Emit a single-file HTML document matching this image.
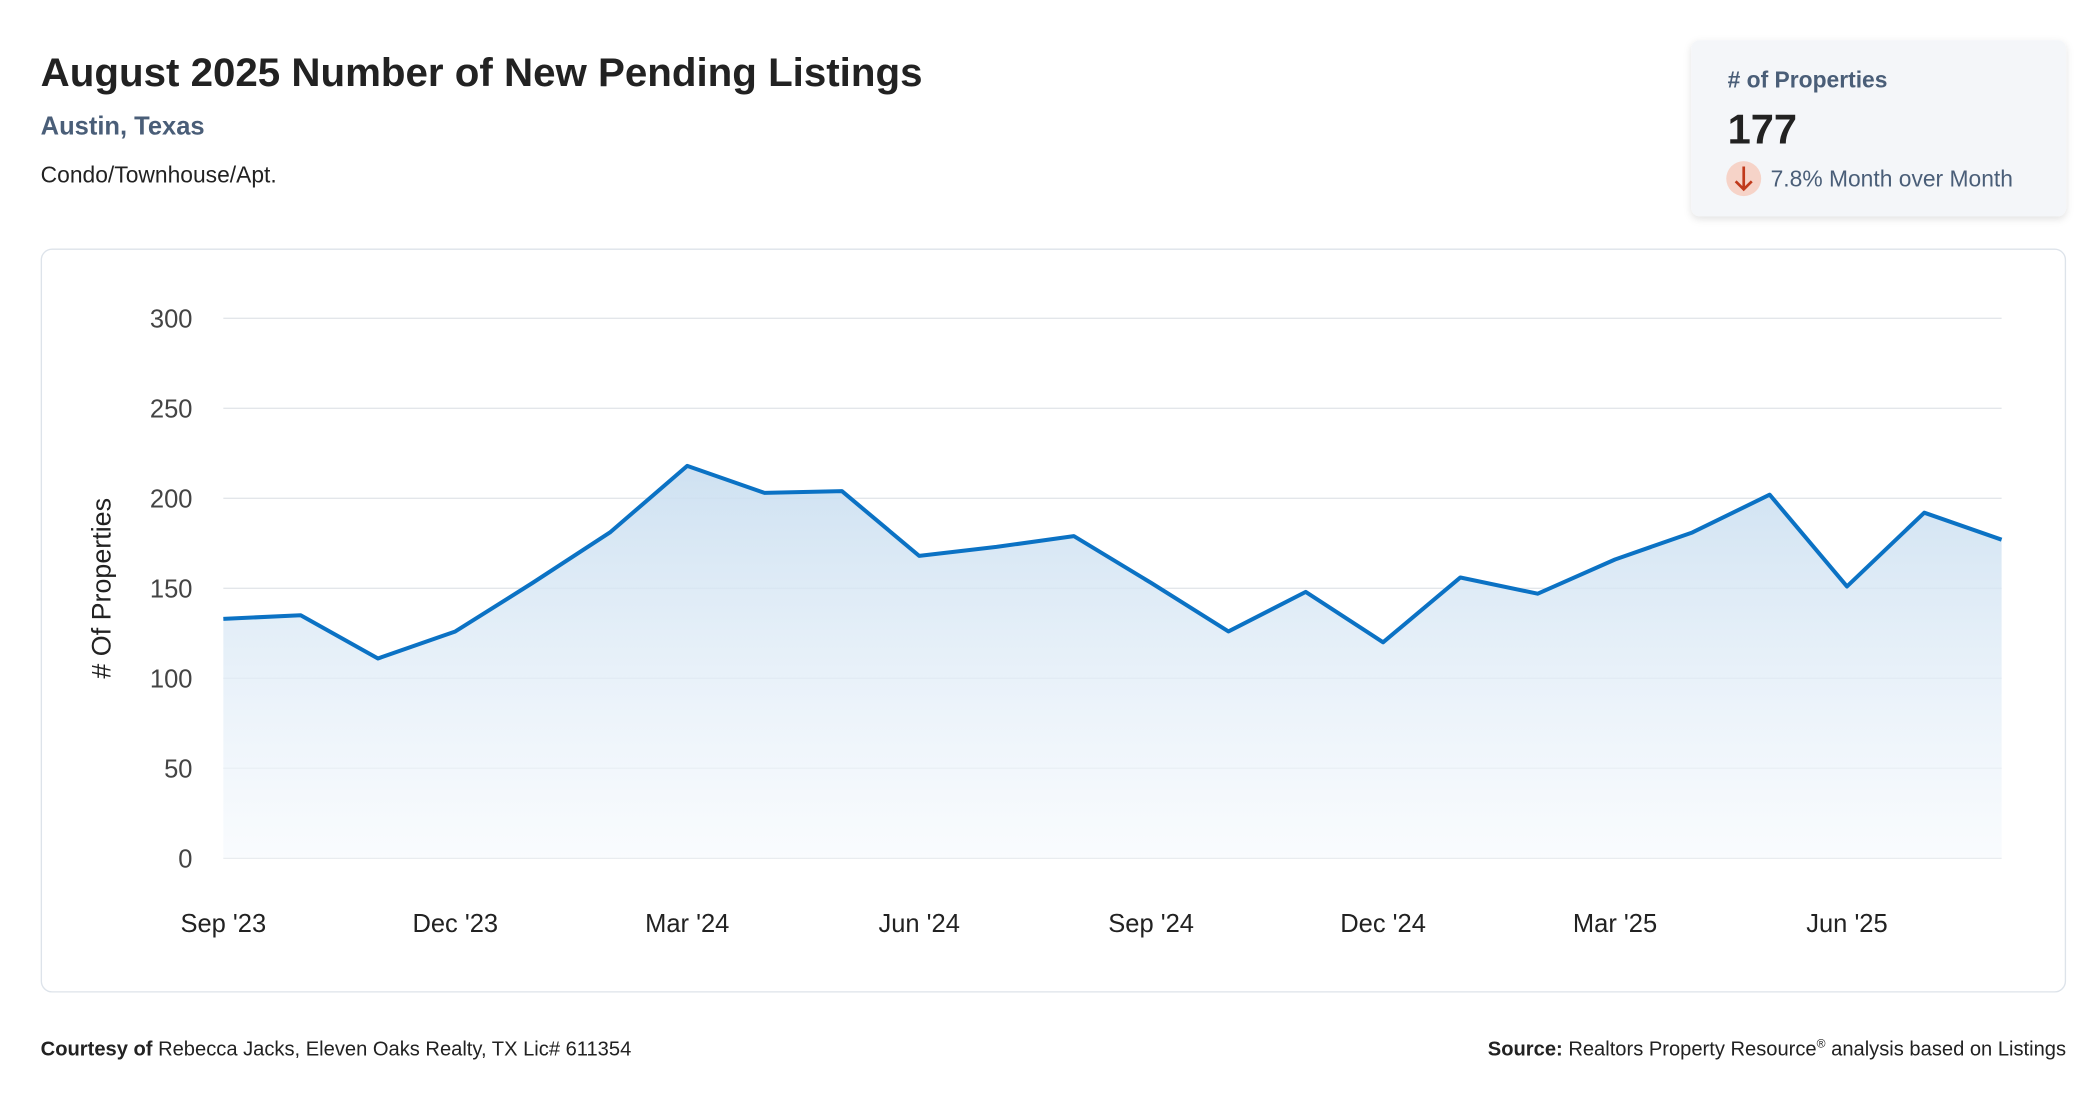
<!DOCTYPE html>
<html><head><meta charset="utf-8"><style>
html,body{margin:0;padding:0;background:#fff;width:2096px;height:1100px;overflow:hidden}
svg{display:block;font-family:"Liberation Sans",sans-serif}
</style></head><body>
<svg id="chart" width="2096" height="1100" viewBox="0 0 1560 819" xmlns="http://www.w3.org/2000/svg">
<defs>
<linearGradient id="fillG" x1="0" y1="0" x2="0" y2="1">
<stop offset="0" stop-color="#c9def0" stop-opacity="0.9"/>
<stop offset="1" stop-color="#f5f9fd" stop-opacity="0.6"/>
</linearGradient>
<filter id="sh" x="-10%" y="-10%" width="120%" height="130%"><feDropShadow dx="0" dy="2" stdDeviation="3" flood-color="#000" flood-opacity="0.12"/></filter>
</defs>
<text x="30" y="64" font-size="30" font-weight="bold" fill="#222">August 2025 Number of New Pending Listings</text>
<text x="30" y="100" font-size="19" font-weight="bold" fill="#4a5e78">Austin, Texas</text>
<text x="30" y="136" font-size="17" fill="#222">Condo/Townhouse/Apt.</text>

<g>
<rect x="1259" y="30" width="279" height="131" rx="6" fill="#f4f6f9" filter="url(#sh)"/>
<text x="1286" y="65" font-size="17" font-weight="bold" fill="#4a5e78"># of Properties</text>
<text x="1286" y="107" font-size="31" font-weight="bold" fill="#222">177</text>
<circle cx="1298" cy="133" r="13" fill="#f6d3c8"/>
<path d="M1298 124 V141 M1292 135 L1298 141 L1304 135" stroke="#c0391b" stroke-width="2" fill="none"/>
<text x="1318" y="139" font-size="17" fill="#4a5e78">7.8% Month over Month</text>
</g>

<rect x="30.5" y="185.5" width="1507" height="553" rx="8" fill="#fff" stroke="#dde3ea"/>
<g id="grid"></g>
<g id="plot"></g>
<g id="xlabels"></g>
<text transform="translate(82,438) rotate(-90)" text-anchor="middle" font-size="20" fill="#222"># Of Properties</text>

<text x="30" y="786" font-size="15" fill="#222"><tspan font-weight="bold">Courtesy of</tspan> Rebecca Jacks, Eleven Oaks Realty, TX Lic# 611354</text>
<text x="1538" y="786" font-size="15" fill="#222" text-anchor="end"><tspan font-weight="bold">Source:</tspan> Realtors Property Resource<tspan font-size="9" dy="-6">®</tspan><tspan dy="6"> analysis based on Listings</tspan></text>
</svg>
<script>
const months = ["Sep '23","Oct '23","Nov '23","Dec '23","Jan '24","Feb '24","Mar '24","Apr '24","May '24","Jun '24","Jul '24","Aug '24","Sep '24","Oct '24","Nov '24","Dec '24","Jan '25","Feb '25","Mar '25","Apr '25","May '25","Jun '25","Jul '25","Aug '25"];
const values = [133,135,111,126,153,181,218,203,204,168,173,179,153,126,148,120,156,147,166,181,202,151,192,177];
const yTicks = [0,50,100,150,200,250,300];
const xTickLabels = ["Sep '23","Dec '23","Mar '24","Jun '24","Sep '24","Dec '24","Mar '25","Jun '25"];

const NS="http://www.w3.org/2000/svg";
const X0=166,X1=1490,Y0=639,Y1=237,YMAX=300;
function xs(i){return X0+(X1-X0)*i/(months.length-1);}
function ys(v){return Y0-(Y0-Y1)*v/YMAX;}
function mk(tag,attrs,parent){const e=document.createElementNS(NS,tag);for(const k in attrs)e.setAttribute(k,attrs[k]);parent.appendChild(e);return e;}

const grid=document.getElementById('grid');
yTicks.forEach(t=>{
  const l=mk('line',{x1:X0,x2:X1,y1:ys(t),y2:ys(t),stroke:'#e3e6ea','stroke-width':1},grid);
  
  
  const tx=mk('text',{x:143,y:ys(t)+7,'text-anchor':'end','font-size':19,fill:'#444'},grid);
  tx.textContent=t;
  
  
});
const plot=document.getElementById('plot');
let pts=values.map((v,i)=>xs(i).toFixed(2)+','+ys(v).toFixed(2));
const area=mk('path',{d:'M'+xs(0)+','+Y0+' L'+pts.join(' L')+' L'+xs(values.length-1)+','+Y0+' Z',fill:'url(#fillG)'},plot);


const line=mk('polyline',{points:pts.join(' '),fill:'none',stroke:'#0b72c4','stroke-width':3,'stroke-linejoin':'round'},plot);


const xl=document.getElementById('xlabels');
xTickLabels.forEach(lab=>{
  const i=months.indexOf(lab);
  const t=mk('text',{x:xs(i),y:694,'text-anchor':'middle','font-size':19,fill:'#222'},xl);
  t.textContent=lab;
  
  
});
</script>
</body></html>
